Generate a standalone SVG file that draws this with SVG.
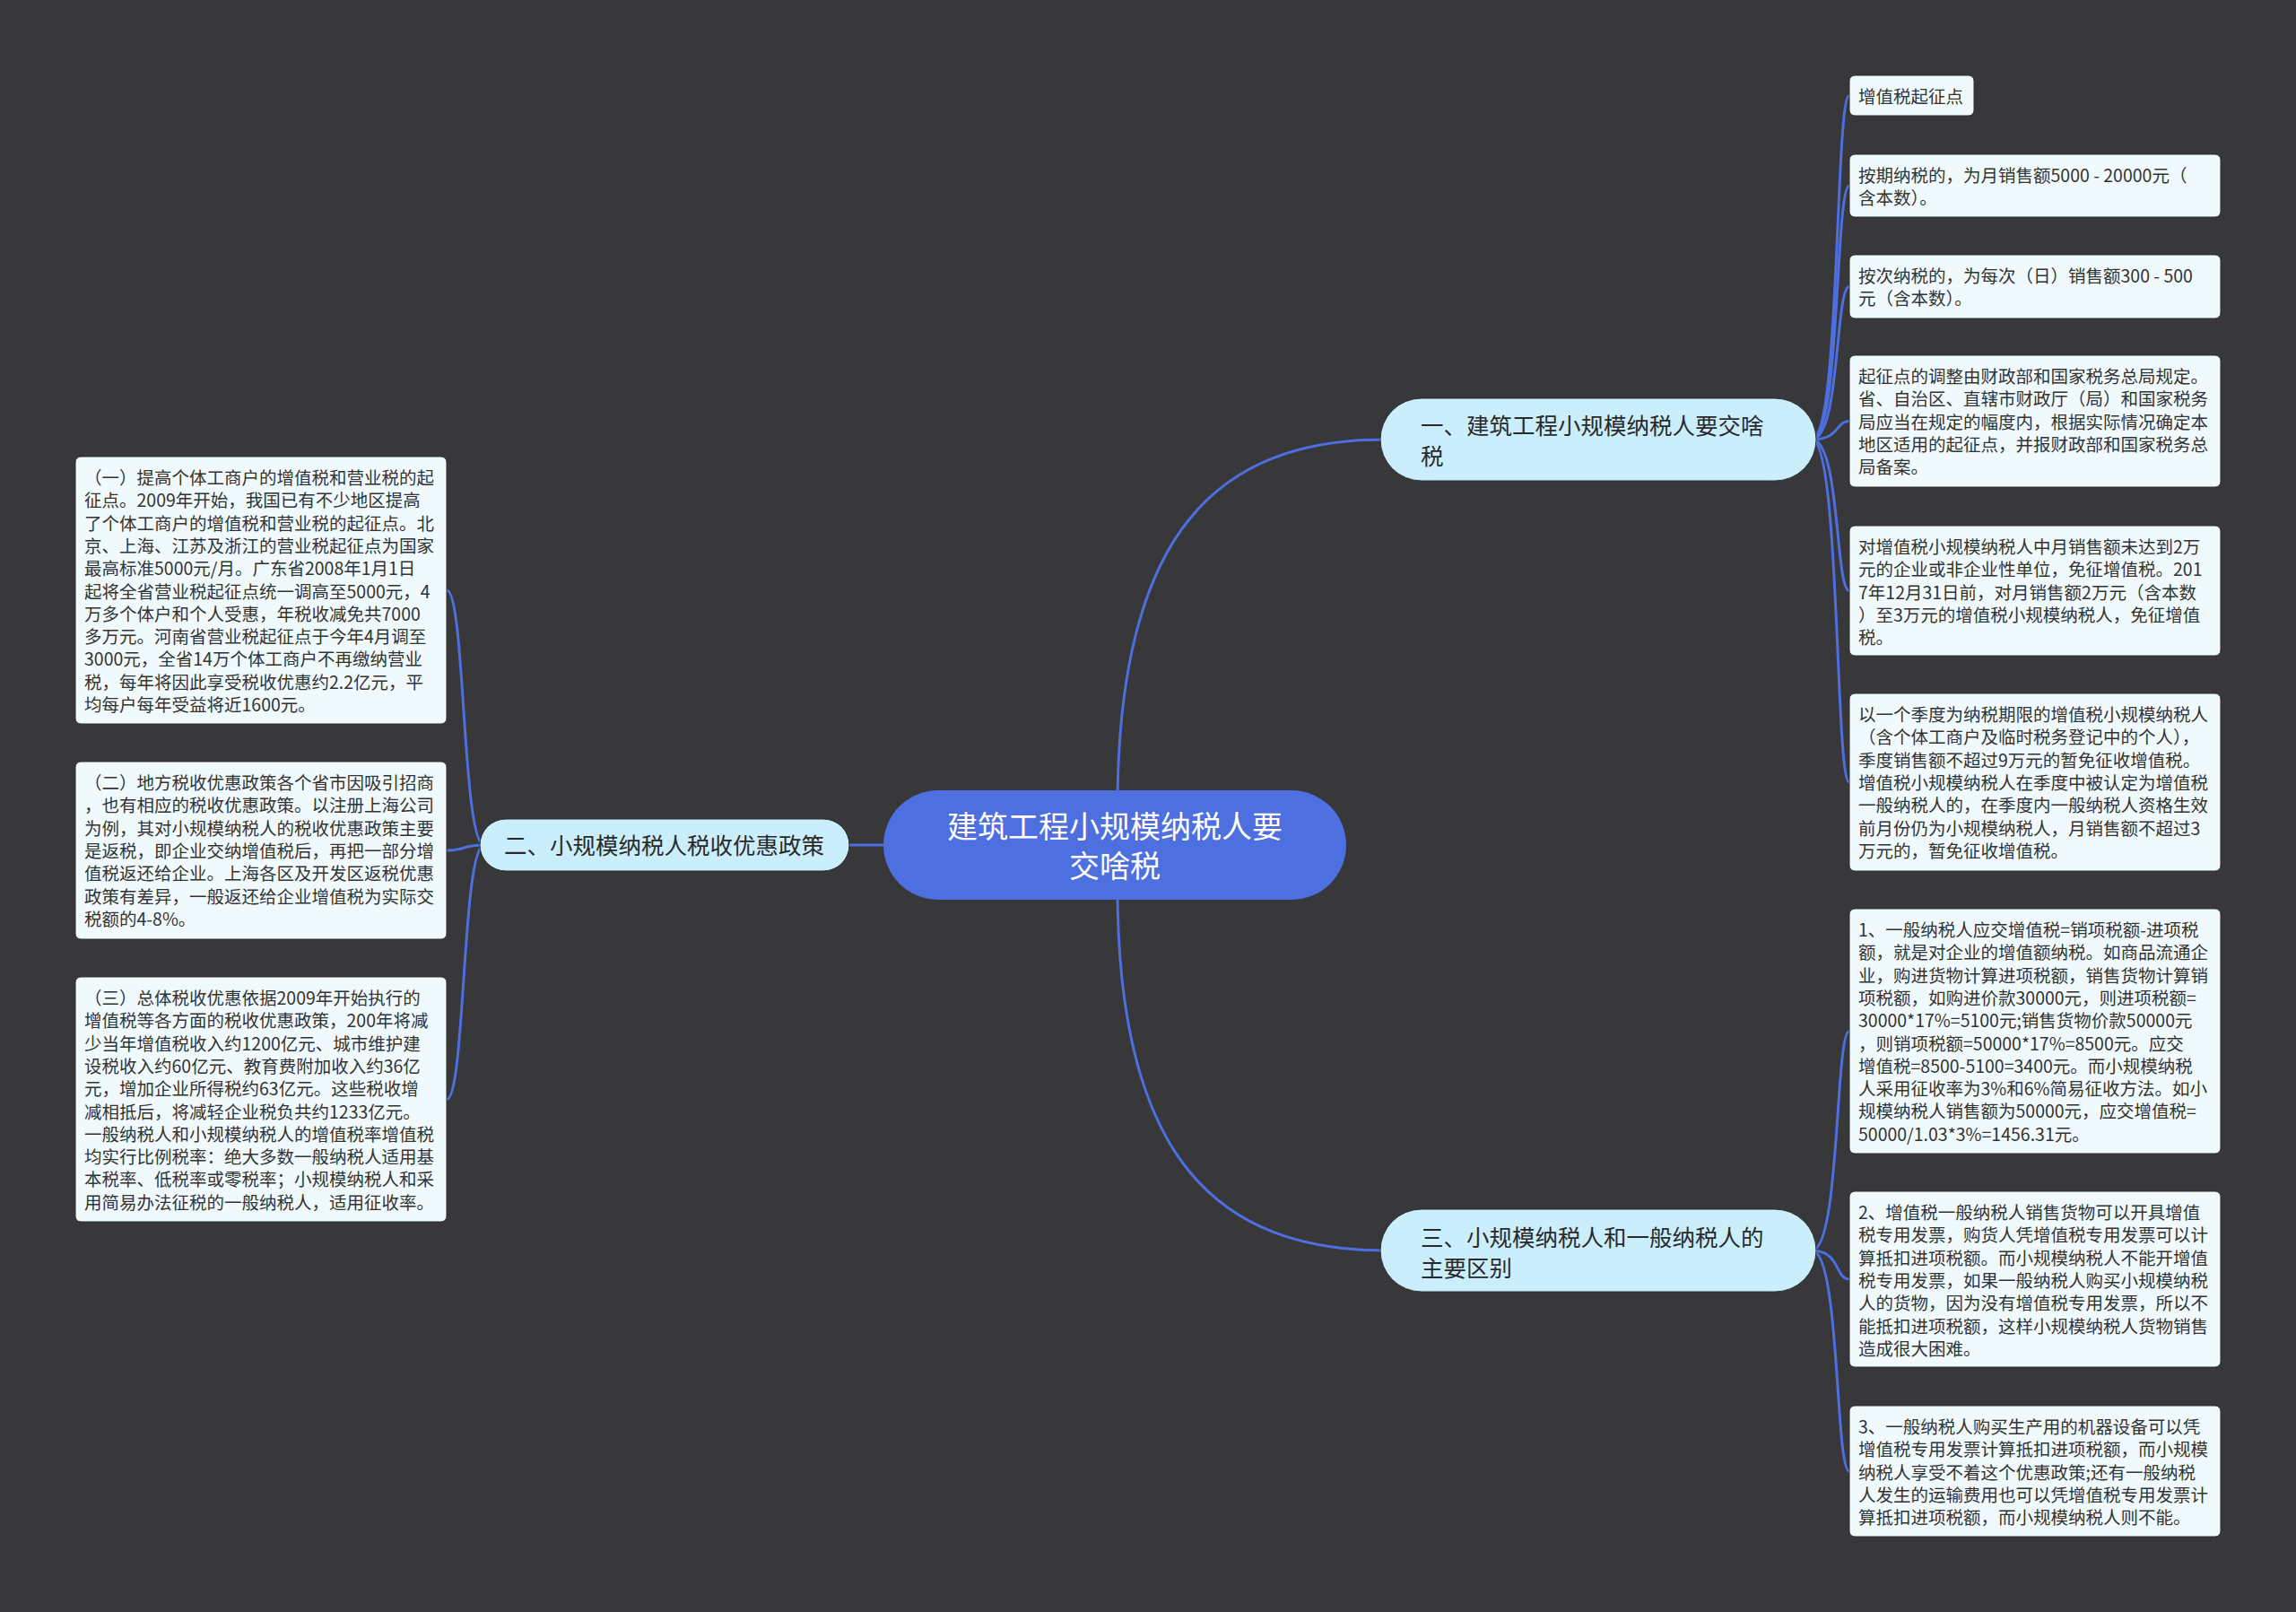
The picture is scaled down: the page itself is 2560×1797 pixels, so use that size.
<svg xmlns="http://www.w3.org/2000/svg" width="2560" height="1797" viewBox="0 0 2560 1797">
<style>
text{font-family:"Noto Sans CJK SC","Noto Sans",sans-serif;}
.bg{fill:#38373a;}
.conn{fill:none;stroke:#4d6fe0;stroke-width:3;}
.root{fill:#4d6fe0;}
.roott{fill:#ffffff;font-size:34px;text-anchor:middle;}
.br{fill:#cbeefd;stroke:#2c2c2e;stroke-width:1;}
.brt{fill:#2a2a2a;font-size:25.5px;}
.leaf{fill:#f0fafd;stroke:#2c2c2e;stroke-width:1;}
.lt{fill:#333333;font-size:19.5px;}
</style>
<rect class="bg" x="0" y="0" width="2560" height="1797"/>
<g id="connectors">
<path class="conn" d="M1246,900 C1246,590 1360,490 1545,490"/>
<path class="conn" d="M1246,990 C1246,1294 1360,1394 1545,1394"/>
<path class="conn" d="M1000,942 L940,942"/>
<path class="conn" d="M540,942 C515,942 519,658 498,658"/>
<path class="conn" d="M540,942 C515,942 519,948 498,948"/>
<path class="conn" d="M540,942 C515,942 519,1225.5 498,1225.5"/>
<path class="conn" d="M2020,490 C2052,490 2046,106.5 2062,106.5"/>
<path class="conn" d="M2020,490 C2052,490 2046,207 2062,207"/>
<path class="conn" d="M2020,490 C2052,490 2046,319.5 2062,319.5"/>
<path class="conn" d="M2020,490 C2052,490 2046,469.5 2062,469.5"/>
<path class="conn" d="M2020,490 C2052,490 2046,658.5 2062,658.5"/>
<path class="conn" d="M2020,490 C2052,490 2046,872 2062,872"/>
<path class="conn" d="M2020,1394 C2052,1394 2046,1149.5 2062,1149.5"/>
<path class="conn" d="M2020,1394 C2052,1394 2046,1426 2062,1426"/>
<path class="conn" d="M2020,1394 C2052,1394 2046,1640 2062,1640"/>
</g>
<g id="root">
<rect class="root" x="985" y="881" width="516" height="122" rx="61"/>
<text class="roott" x="1243" y="934">建筑工程小规模纳税人要<tspan x="1243" y="978">交啥税</tspan></text>
</g>
<g id="branch1">
<rect class="br" x="1539" y="444" width="486" height="92" rx="46"/>
<text class="brt" x="1584" y="484">一、建筑工程小规模纳税人要交啥<tspan x="1584" y="518">税</tspan></text>
</g>
<g id="branch2">
<rect class="br" x="535" y="913" width="412" height="58" rx="29"/>
<text class="brt" x="562" y="952">二、小规模纳税人税收优惠政策</text>
</g>
<g id="branch3">
<rect class="br" x="1539" y="1348" width="486" height="92" rx="46"/>
<text class="brt" x="1584" y="1389">三、小规模纳税人和一般纳税人的<tspan x="1584" y="1423">主要区别</tspan></text>
</g>
<g id="leaf-r1">
<rect class="leaf" x="2062" y="84" width="139" height="45" rx="6"/>
<text class="lt" x="2072" y="115">增值税起征点</text>
</g>
<g id="leaf-r2">
<rect class="leaf" x="2062" y="172" width="414" height="70" rx="6"/>
<text class="lt" x="2072" y="203">按期纳税的，为月销售额5000 - 20000元（<tspan x="2072" dy="25.3">含本数）。</tspan></text>
</g>
<g id="leaf-r3">
<rect class="leaf" x="2062" y="284" width="414" height="71" rx="6"/>
<text class="lt" x="2072" y="315">按次纳税的，为每次（日）销售额300 - 500<tspan x="2072" dy="25.3">元（含本数）。</tspan></text>
</g>
<g id="leaf-r4">
<rect class="leaf" x="2062" y="396" width="414" height="147" rx="6"/>
<text class="lt" x="2072" y="427">起征点的调整由财政部和国家税务总局规定。<tspan x="2072" dy="25.3">省、自治区、直辖市财政厅（局）和国家税务</tspan><tspan x="2072" dy="25.3">局应当在规定的幅度内，根据实际情况确定本</tspan><tspan x="2072" dy="25.3">地区适用的起征点，并报财政部和国家税务总</tspan><tspan x="2072" dy="25.3">局备案。</tspan></text>
</g>
<g id="leaf-r5">
<rect class="leaf" x="2062" y="586" width="414" height="145" rx="6"/>
<text class="lt" x="2072" y="617">对增值税小规模纳税人中月销售额未达到2万<tspan x="2072" dy="25.3">元的企业或非企业性单位，免征增值税。201</tspan><tspan x="2072" dy="25.3">7年12月31日前，对月销售额2万元（含本数</tspan><tspan x="2072" dy="25.3">）至3万元的增值税小规模纳税人，免征增值</tspan><tspan x="2072" dy="25.3">税。</tspan></text>
</g>
<g id="leaf-r6">
<rect class="leaf" x="2062" y="773" width="414" height="198" rx="6"/>
<text class="lt" x="2072" y="804">以一个季度为纳税期限的增值税小规模纳税人<tspan x="2072" dy="25.3">（含个体工商户及临时税务登记中的个人），</tspan><tspan x="2072" dy="25.3">季度销售额不超过9万元的暂免征收增值税。</tspan><tspan x="2072" dy="25.3">增值税小规模纳税人在季度中被认定为增值税</tspan><tspan x="2072" dy="25.3">一般纳税人的，在季度内一般纳税人资格生效</tspan><tspan x="2072" dy="25.3">前月份仍为小规模纳税人，月销售额不超过3</tspan><tspan x="2072" dy="25.3">万元的，暂免征收增值税。</tspan></text>
</g>
<g id="leaf-r7">
<rect class="leaf" x="2062" y="1013" width="414" height="273" rx="6"/>
<text class="lt" x="2072" y="1044">1、一般纳税人应交增值税=销项税额-进项税<tspan x="2072" dy="25.3">额，就是对企业的增值额纳税。如商品流通企</tspan><tspan x="2072" dy="25.3">业，购进货物计算进项税额，销售货物计算销</tspan><tspan x="2072" dy="25.3">项税额，如购进价款30000元，则进项税额=</tspan><tspan x="2072" dy="25.3">30000*17%=5100元;销售货物价款50000元</tspan><tspan x="2072" dy="25.3">，则销项税额=50000*17%=8500元。应交</tspan><tspan x="2072" dy="25.3">增值税=8500-5100=3400元。而小规模纳税</tspan><tspan x="2072" dy="25.3">人采用征收率为3%和6%简易征收方法。如小</tspan><tspan x="2072" dy="25.3">规模纳税人销售额为50000元，应交增值税=</tspan><tspan x="2072" dy="25.3">50000/1.03*3%=1456.31元。</tspan></text>
</g>
<g id="leaf-r8">
<rect class="leaf" x="2062" y="1328" width="414" height="196" rx="6"/>
<text class="lt" x="2072" y="1359">2、增值税一般纳税人销售货物可以开具增值<tspan x="2072" dy="25.3">税专用发票，购货人凭增值税专用发票可以计</tspan><tspan x="2072" dy="25.3">算抵扣进项税额。而小规模纳税人不能开增值</tspan><tspan x="2072" dy="25.3">税专用发票，如果一般纳税人购买小规模纳税</tspan><tspan x="2072" dy="25.3">人的货物，因为没有增值税专用发票，所以不</tspan><tspan x="2072" dy="25.3">能抵扣进项税额，这样小规模纳税人货物销售</tspan><tspan x="2072" dy="25.3">造成很大困难。</tspan></text>
</g>
<g id="leaf-r9">
<rect class="leaf" x="2062" y="1567" width="414" height="146" rx="6"/>
<text class="lt" x="2072" y="1598">3、一般纳税人购买生产用的机器设备可以凭<tspan x="2072" dy="25.3">增值税专用发票计算抵扣进项税额，而小规模</tspan><tspan x="2072" dy="25.3">纳税人享受不着这个优惠政策;还有一般纳税</tspan><tspan x="2072" dy="25.3">人发生的运输费用也可以凭增值税专用发票计</tspan><tspan x="2072" dy="25.3">算抵扣进项税额，而小规模纳税人则不能。</tspan></text>
</g>
<g id="leaf-l1">
<rect class="leaf" x="84" y="509" width="414" height="298" rx="6"/>
<text class="lt" x="94" y="540">（一）提高个体工商户的增值税和营业税的起<tspan x="94" dy="25.3">征点。2009年开始，我国已有不少地区提高</tspan><tspan x="94" dy="25.3">了个体工商户的增值税和营业税的起征点。北</tspan><tspan x="94" dy="25.3">京、上海、江苏及浙江的营业税起征点为国家</tspan><tspan x="94" dy="25.3">最高标准5000元/月。广东省2008年1月1日</tspan><tspan x="94" dy="25.3">起将全省营业税起征点统一调高至5000元，4</tspan><tspan x="94" dy="25.3">万多个体户和个人受惠，年税收减免共7000</tspan><tspan x="94" dy="25.3">多万元。河南省营业税起征点于今年4月调至</tspan><tspan x="94" dy="25.3">3000元，全省14万个体工商户不再缴纳营业</tspan><tspan x="94" dy="25.3">税，每年将因此享受税收优惠约2.2亿元，平</tspan><tspan x="94" dy="25.3">均每户每年受益将近1600元。</tspan></text>
</g>
<g id="leaf-l2">
<rect class="leaf" x="84" y="849" width="414" height="198" rx="6"/>
<text class="lt" x="94" y="880">（二）地方税收优惠政策各个省市因吸引招商<tspan x="94" dy="25.3">，也有相应的税收优惠政策。以注册上海公司</tspan><tspan x="94" dy="25.3">为例，其对小规模纳税人的税收优惠政策主要</tspan><tspan x="94" dy="25.3">是返税，即企业交纳增值税后，再把一部分增</tspan><tspan x="94" dy="25.3">值税返还给企业。上海各区及开发区返税优惠</tspan><tspan x="94" dy="25.3">政策有差异，一般返还给企业增值税为实际交</tspan><tspan x="94" dy="25.3">税额的4-8%。</tspan></text>
</g>
<g id="leaf-l3">
<rect class="leaf" x="84" y="1089" width="414" height="273" rx="6"/>
<text class="lt" x="94" y="1120">（三）总体税收优惠依据2009年开始执行的<tspan x="94" dy="25.3">增值税等各方面的税收优惠政策，200年将减</tspan><tspan x="94" dy="25.3">少当年增值税收入约1200亿元、城市维护建</tspan><tspan x="94" dy="25.3">设税收入约60亿元、教育费附加收入约36亿</tspan><tspan x="94" dy="25.3">元，增加企业所得税约63亿元。这些税收增</tspan><tspan x="94" dy="25.3">减相抵后，将减轻企业税负共约1233亿元。</tspan><tspan x="94" dy="25.3">一般纳税人和小规模纳税人的增值税率增值税</tspan><tspan x="94" dy="25.3">均实行比例税率：绝大多数一般纳税人适用基</tspan><tspan x="94" dy="25.3">本税率、低税率或零税率；小规模纳税人和采</tspan><tspan x="94" dy="25.3">用简易办法征税的一般纳税人，适用征收率。</tspan></text>
</g>
</svg>
